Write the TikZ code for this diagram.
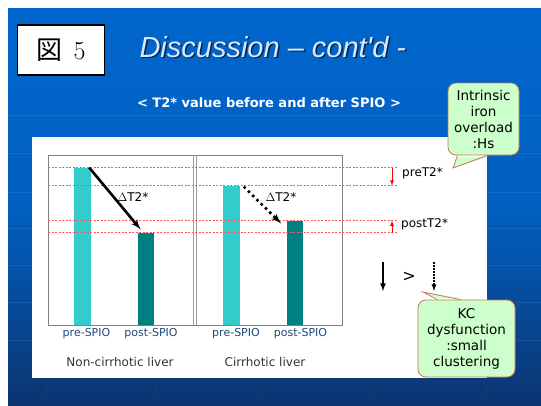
\documentclass[tikz,border=0pt]{standalone}
\usepackage{fontspec}
\usepackage {tikz}
\usetikzlibrary {positioning}
\usetikzlibrary{shapes,arrows}
\newfontfamily\verdana{DejaVu Sans}
\newfontfamily\arialfont{Liberation Sans}
\newfontfamily\cjk{Noto Sans CJK JP}
\definecolor {slideblue}{RGB}{0,102,204}
\definecolor {slidenavy}{RGB}{12,52,112}
\definecolor {barcyan}{RGB}{51,204,204}
\definecolor {barteal}{RGB}{0,128,128}
\definecolor {labelblue}{RGB}{31,73,125}
\definecolor {calloutgreen}{RGB}{204,255,204}
\definecolor {calloutbrown}{RGB}{200,120,90}
\definecolor {titlelight}{RGB}{220,232,255}
\tikzstyle{prebar} = [fill=barcyan, minimum width=17pt, inner sep=0pt, anchor=south]
\tikzstyle{postbar} = [fill=barteal, minimum width=16pt, inner sep=0pt, anchor=south]
\tikzstyle{refline} = [draw, red!65, dash pattern=on 2pt off 1.5pt, line width=0.5pt]
\tikzstyle{redarrow} = [draw, red, line width=0.8pt, -latex]
\tikzstyle{deltaline} = [draw, line width=2.6pt, -latex']
\tikzstyle{deltadots} = [draw, line width=2.6pt, dash pattern=on 2.6pt off 3.4pt, -latex']
\tikzstyle{barlabel} = [text=labelblue, font=\verdana\fontsize{11}{12}\selectfont, inner sep=1pt]
\tikzstyle{grouplabel} = [text=black!80, font=\verdana\fontsize{12}{14}\selectfont]
\tikzstyle{small} = [font=\verdana\fontsize{12}{14}\selectfont, inner sep=1pt]
\tikzstyle{bubble} = [draw=calloutbrown, fill=calloutgreen, line width=0.8pt, rounded corners=8pt, align=center, inner sep=0pt, font=\verdana\fontsize{13.5}{16}\selectfont]
\tikzstyle{tail} = [draw=calloutbrown, line width=0.8pt]

\begin{document}
\begin{tikzpicture}[x=1pt, y=-1pt, node distance = 4pt, auto]
	\useasboundingbox (0,0) rectangle (541,405);
	\fill[white] (0,0) rectangle (541,405);
	\shade[top color=slideblue, bottom color=slidenavy, middle color=slideblue!88!slidenavy] (8,8) rectangle (541,405);
	\foreach \y in {115,153,192,228,265,302,340}
		\draw[white, opacity=0.07, line width=1pt] (8,\y) -- (541,\y);
	\foreach \x in {40,150,260,370,480}
		\draw[white, opacity=0.06] (\x,405) -- (\x+40,300);

	\node[draw, line width=1.8pt, fill=white, minimum width=87pt, minimum height=50pt, inner sep=0pt] (figno) at (61,50) {{\cjk\fontsize{26}{26}\selectfont 図}\hspace{11pt}{\fontsize{26}{26}\selectfont 5}};
	\node[text=black, opacity=0.6, anchor=west, font=\arialfont\itshape\fontsize{29}{29}\selectfont] at (137.5,48.5) {Discussion – cont'd -};
	\node[text=titlelight, anchor=west, font=\arialfont\itshape\fontsize{29}{29}\selectfont] (title) at (136,47) {Discussion – cont'd -};
	\node[text=white, font=\verdana\bfseries\fontsize{13}{14}\selectfont] (subtitle) at (269,103) {< T2* value before and after SPIO >};

	\fill[white] (32,137) rectangle (487,378);
	\draw[gray, line width=0.8pt] (48,155) rectangle (342,325);
	\draw[gray!80, line width=0.8pt] (193,155) -- (193,325);
	\draw[gray!80, line width=0.8pt] (196.5,155) -- (196.5,325);

	\node[prebar, minimum height=157pt] (bar1) at (82.5,325) {};
	\node[postbar, minimum height=92pt] (bar2) at (146,325) {};
	\node[prebar, minimum height=139pt] (bar3) at (231,325) {};
	\node[postbar, minimum height=104pt] (bar4) at (294.5,325) {};

	\coordinate (lineleft) at (48,0);
	\coordinate (lineright) at (397,0);
	\coordinate (marker) at (392,0);
	\foreach \b in {bar1,bar2,bar3,bar4}
		\path[refline] (lineleft |- \b.north) -- (lineright |- \b.north);

	\node[barlabel] (lab1) [below = 2pt of bar1, xshift=4pt] {pre-SPIO};
	\node[barlabel] (lab2) [below = 2pt of bar2, xshift=5pt] {post-SPIO};
	\node[barlabel] (lab3) [below = 2pt of bar3, xshift=5pt] {pre-SPIO};
	\node[barlabel] (lab4) [below = 2pt of bar4, xshift=6pt] {post-SPIO};
	\node[grouplabel] (group1) at (120,362) {Non-cirrhotic liver};
	\node[grouplabel] (group2) at (265,362) {Cirrhotic liver};

	\path [deltaline] ([xshift=-2pt]bar1.north east) -- ([xshift=3pt,yshift=3pt]bar2.north west);
	\path [deltadots] ([xshift=4pt,yshift=-1pt]bar3.north east) -- ([xshift=-5pt,yshift=-3pt]bar4.north west);
	\node[small] (delta1) at (133,197) {$\Delta$T2*};
	\node[small] (delta2) at (281,197) {$\Delta$T2*};

	\path [redarrow] (marker |- bar1.north) -- (marker |- bar3.north);
	\path [redarrow] (marker |- bar2.north) -- (marker |- bar4.north);
	\node[small, anchor=west] (pre) at (401,173) {preT2*};
	\node[small, anchor=west] (post) at (400,224) {postT2*};

	\coordinate (solidtop) at (383,262);
	\coordinate (solidbot) at (383,291);
	\coordinate (dottop) at (434,262);
	\coordinate (dotbot) at (434,291);
	\path [draw, line width=1.6pt, -latex] (solidtop) -- (solidbot);
	\node[font=\verdana\fontsize{16}{16}\selectfont] (gt) at (409,277) {>};
	\path [draw, line width=1.3pt, dash pattern=on 1.5pt off 1.5pt, -latex] (dottop) -- (dotbot);

	\node[bubble, minimum width=71pt, minimum height=72pt] (iron) at (483.5,119) {Intrinsic\\iron\\overload\\:Hs};
	\coordinate (irontip) at (453,168);
	\fill[calloutgreen] ([xshift=-26pt,yshift=-1.5pt]iron.south) -- (irontip) -- ([xshift=4pt,yshift=-1.5pt]iron.south) -- cycle;
	\path[tail] ([xshift=-26pt]iron.south) -- (irontip) -- ([xshift=4pt]iron.south);

	\node[bubble, minimum width=97pt, minimum height=77pt] (kc) at (466.5,338.5) {KC\\dysfunction\\:small\\clustering};
	\coordinate (kctip) at (423,292);
	\fill[calloutgreen] ([xshift=-29pt,yshift=1.5pt]kc.north) -- (kctip) -- ([xshift=-6pt,yshift=1.5pt]kc.north) -- cycle;
	\path[tail] ([xshift=-29pt]kc.north) -- (kctip) -- ([xshift=-6pt]kc.north);
\end{tikzpicture}
\end{document}
